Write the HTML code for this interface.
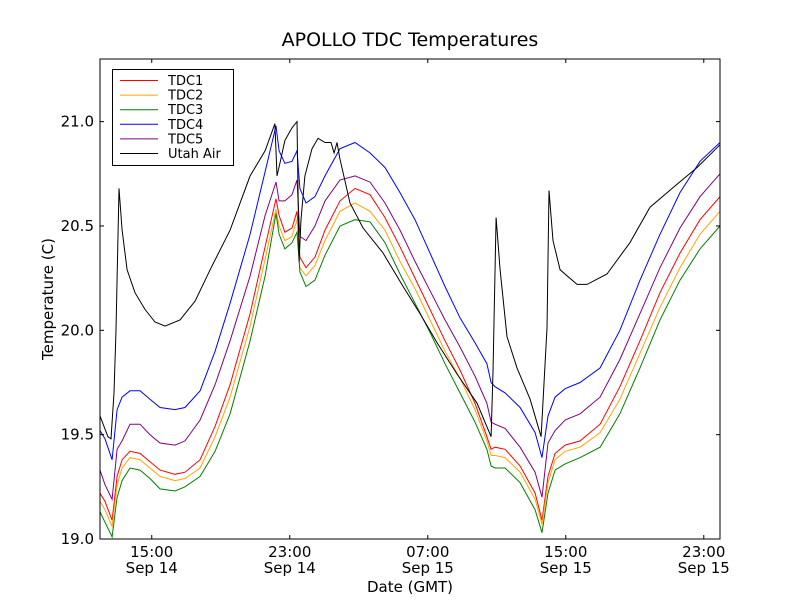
<!DOCTYPE html>
<html><head><meta charset="utf-8"><style>
body{margin:0;background:#fff;}
svg{display:block;font-family:"DejaVu Sans","Liberation Sans",sans-serif;}
</style></head><body>
<svg id="chart" width="800" height="600" viewBox="0 0 800 600">
<rect width="800" height="600" fill="#fff"/>
<text x="410" y="46" font-size="19" text-anchor="middle">APOLLO TDC Temperatures</text>
<g id="series"></g>
<g id="axes"></g>
<text x="410" y="592" font-size="15" text-anchor="middle">Date (GMT)</text>
<text transform="translate(53,299) rotate(-90)" font-size="15" text-anchor="middle">Temperature (C)</text>
<g id="legend"></g>
</svg>
<script>
// hours since 12:00 Sep 14
const tdcTimes=[0,0.29,0.70,0.99,1.28,1.74,2.32,2.90,3.48,4.35,4.93,5.80,6.67,7.54,8.70,9.57,10.20,10.38,10.72,11.13,11.42,11.59,11.94,12.46,13.04,13.91,
14.78,15.65,16.52,17.39,18.26,19.13,20.00,20.87,21.74,22.43,22.67,22.90,23.48,24.35,25.22,25.62,25.97,26.38,26.96,27.83,28.99,30.14,31.30,32.46,33.62,34.78,35.94];
const tdc1=[19.22,19.18,19.09,19.30,19.38,19.42,19.41,19.37,19.33,19.31,19.32,19.38,19.54,19.74,20.08,20.40,20.63,20.55,20.47,20.49,20.57,20.35,20.30,20.35,20.48,20.62,
20.68,20.65,20.54,20.40,20.25,20.10,19.95,19.81,19.65,19.49,19.43,19.44,19.43,19.35,19.22,19.09,19.30,19.41,19.45,19.47,19.55,19.73,19.95,20.18,20.37,20.53,20.64];
const tdc2=[19.18,19.14,19.06,19.26,19.34,19.39,19.38,19.34,19.30,19.28,19.29,19.34,19.49,19.68,20.02,20.34,20.58,20.50,20.43,20.45,20.53,20.30,20.26,20.31,20.43,20.57,
20.61,20.57,20.48,20.33,20.20,20.05,19.90,19.77,19.62,19.47,19.40,19.40,19.39,19.32,19.19,19.07,19.27,19.38,19.42,19.44,19.51,19.67,19.89,20.11,20.30,20.46,20.57];
const tdc3=[19.13,19.08,19.01,19.20,19.28,19.34,19.33,19.29,19.24,19.23,19.25,19.30,19.42,19.60,19.95,20.26,20.56,20.46,20.39,20.42,20.47,20.28,20.21,20.24,20.36,20.50,
20.53,20.52,20.42,20.27,20.13,19.99,19.84,19.70,19.56,19.43,19.35,19.34,19.34,19.27,19.14,19.03,19.22,19.33,19.36,19.39,19.44,19.60,19.82,20.05,20.24,20.39,20.50];
const tdc4=[19.52,19.48,19.38,19.62,19.68,19.71,19.71,19.67,19.63,19.62,19.63,19.71,19.90,20.13,20.46,20.76,20.98,20.86,20.80,20.81,20.86,20.68,20.61,20.64,20.74,20.87,
20.90,20.85,20.78,20.66,20.53,20.37,20.21,20.06,19.94,19.84,19.75,19.73,19.70,19.63,19.51,19.39,19.59,19.68,19.72,19.75,19.82,20.00,20.24,20.46,20.66,20.81,20.90];
const tdc5=[19.33,19.26,19.19,19.43,19.47,19.55,19.55,19.50,19.46,19.45,19.47,19.57,19.74,19.95,20.26,20.55,20.71,20.62,20.62,20.65,20.72,20.45,20.43,20.50,20.62,20.72,
20.74,20.71,20.61,20.48,20.33,20.19,20.05,19.92,19.78,19.65,19.56,19.55,19.53,19.44,19.32,19.20,19.46,19.52,19.57,19.60,19.68,19.86,20.08,20.30,20.49,20.64,20.75];
const airTimes=[0,0.46,0.64,0.81,0.93,1.10,1.28,1.57,2.03,2.61,3.19,3.77,4.64,5.51,6.38,7.54,8.70,9.57,10.14,10.26,10.43,10.72,11.13,11.42,11.54,11.65,11.88,12.29,12.64,
13.04,13.39,13.57,13.74,13.91,14.49,15.25,16.41,17.57,18.55,19.54,20.70,21.86,22.67,22.78,22.96,23.19,23.59,24.17,24.93,25.57,25.91,26.03,26.26,26.67,27.65,28.23,29.39,30.72,31.88,33.45,34.61,35.83,35.94];
const utahAir=[19.59,19.49,19.48,19.70,20.00,20.68,20.48,20.29,20.18,20.10,20.04,20.02,20.05,20.14,20.29,20.48,20.74,20.86,20.99,20.74,20.80,20.91,20.97,21.00,20.33,20.53,20.74,20.87,20.92,
20.90,20.90,20.85,20.90,20.82,20.61,20.49,20.37,20.21,20.08,19.94,19.79,19.65,19.49,19.80,20.54,20.29,19.97,19.82,19.67,19.49,20.01,20.67,20.43,20.29,20.22,20.22,20.27,20.42,20.59,20.70,20.78,20.88,20.89];
const yTicks=[19.0,19.5,20.0,20.5,21.0];
const yTickLabels=["19.0","19.5","20.0","20.5","21.0"];
const xTicks=[3,11,19,27,35];
const xTickTime=["15:00","23:00","07:00","15:00","23:00"];
const xTickDate=["Sep 14","Sep 14","Sep 15","Sep 15","Sep 15"];
const seriesNames=["TDC1","TDC2","TDC3","TDC4","TDC5","Utah Air"];

const L=100,R=720,T=59,B=539,X0=0,X1=35.94,Y0=19.0,Y1=21.3;
const NS="http://www.w3.org/2000/svg";
function xs(t){return L+(t-X0)/(X1-X0)*(R-L);}
function ys(v){return B-(v-Y0)/(Y1-Y0)*(B-T);}
function mk(tag,attrs,parent){const e=document.createElementNS(NS,tag);for(const k in attrs)e.setAttribute(k,attrs[k]);parent.appendChild(e);return e;}

const sg=document.getElementById('series');
const defs=[[tdcTimes,tdc1,"#ff0000","tdc1-line"],[tdcTimes,tdc2,"#ffa500","tdc2-line"],[tdcTimes,tdc3,"#008000","tdc3-line"],[tdcTimes,tdc4,"#0000ff","tdc4-line"],[tdcTimes,tdc5,"#800080","tdc5-line"],[airTimes,utahAir,"#000000","utah-air-line"]];
const clip=mk('clipPath',{id:'pc'},sg);mk('rect',{x:L,y:T,width:R-L,height:B-T},clip);
defs.forEach(d=>{
  const pts=d[0].map((t,i)=>xs(t).toFixed(1)+","+ys(d[1][i]).toFixed(1)).join(" ");
  const p=mk('polyline',{points:pts,fill:'none',stroke:d[2],'stroke-width':1,'clip-path':'url(#pc)'},sg);
  
  
});

const ax=document.getElementById('axes');
const frame=mk('rect',{x:L,y:T,width:R-L,height:B-T,fill:'none',stroke:'#000','stroke-width':1},ax);


yTicks.forEach((v,i)=>{
  const y=ys(v);
  mk('line',{x1:L,x2:L+4,y1:y,y2:y,stroke:'#000'},ax);
  mk('line',{x1:R-4,x2:R,y1:y,y2:y,stroke:'#000'},ax);
  const tx=mk('text',{x:L-6,y:y+5,'font-size':15,'text-anchor':'end'},ax);
  tx.textContent=yTickLabels[i];
  
  
});
xTicks.forEach((t,i)=>{
  const x=xs(t);
  mk('line',{x1:x,x2:x,y1:B,y2:B-4,stroke:'#000'},ax);
  mk('line',{x1:x,x2:x,y1:T,y2:T+4,stroke:'#000'},ax);
  const a=mk('text',{x:x,y:B+18,'font-size':15,'text-anchor':'middle'},ax);
  a.textContent=xTickTime[i];
  
  
  const b=mk('text',{x:x,y:B+34,'font-size':15,'text-anchor':'middle'},ax);
  b.textContent=xTickDate[i];
  
  
});

const lg=document.getElementById('legend');
const box=mk('rect',{x:112.5,y:69.5,width:121,height:96,fill:'#fff',stroke:'#000','stroke-width':1},lg);


seriesNames.forEach((n,i)=>{
  const y=80.5+i*14.6;
  const g=mk('g',{},lg);
  
  
  mk('line',{x1:120,x2:158,y1:y,y2:y,stroke:defs[i][2],'stroke-width':1},g);
  const t=mk('text',{x:168,y:y+4.5,'font-size':13},g);
  t.textContent=n;
});
</script>
</body></html>
